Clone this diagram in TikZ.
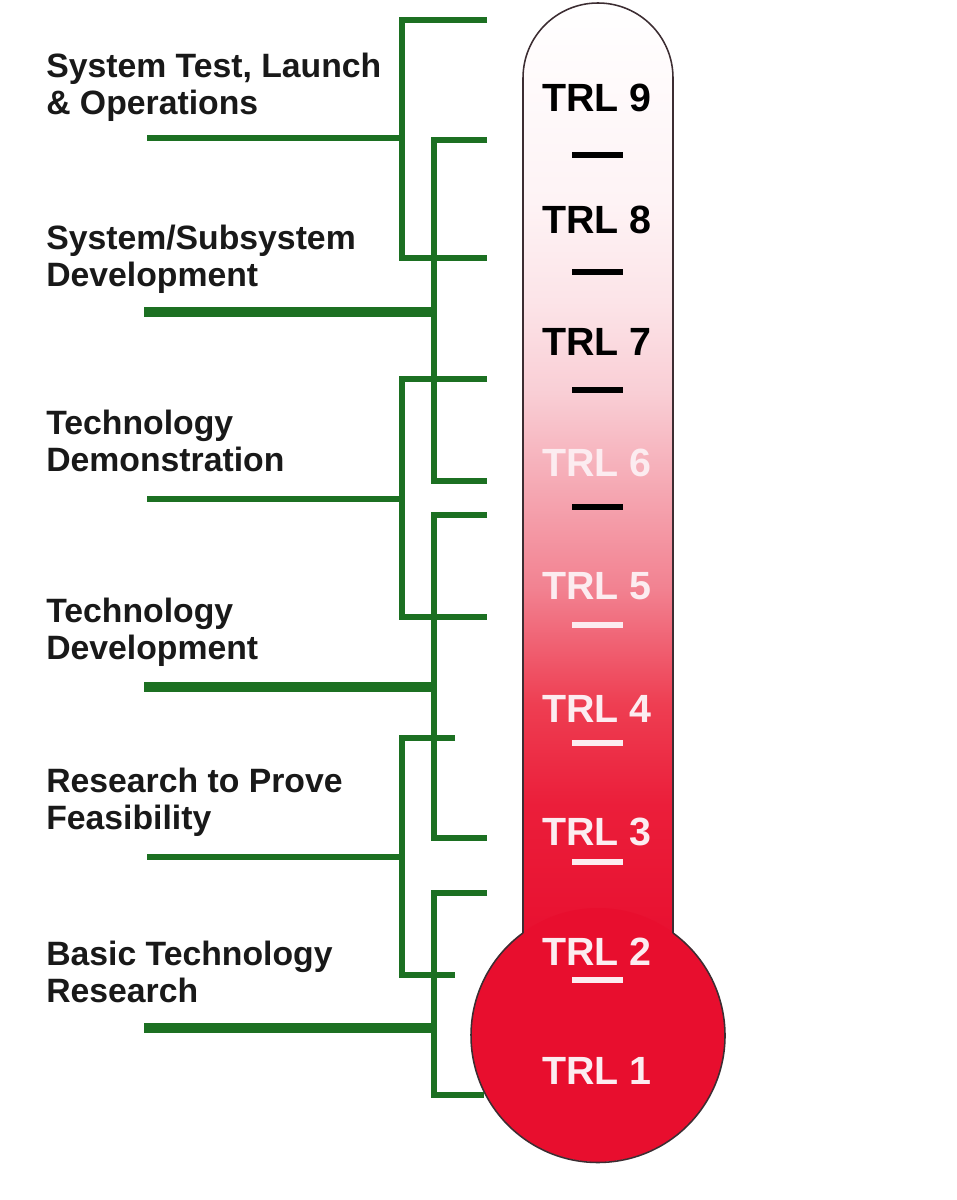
\documentclass[tikz,border=0pt]{standalone}
\usepackage{fontspec}
\setmainfont{Liberation Sans}
\definecolor{grn}{RGB}{28,112,34}
\definecolor{outl}{RGB}{60,45,50}
\definecolor{bulbred}{RGB}{232,14,46}
\definecolor{paletxt}{RGB}{252,236,240}
\definecolor{tc1}{RGB}{232,16,48}
\definecolor{tc2}{RGB}{235,30,58}
\definecolor{tc3}{RGB}{238,62,82}
\definecolor{tc4}{RGB}{242,130,145}
\definecolor{tc5}{RGB}{246,176,186}
\definecolor{tc6}{RGB}{249,206,213}
\definecolor{tc7}{RGB}{252,228,232}
\definecolor{tc8}{RGB}{254,243,245}
\definecolor{tc9}{RGB}{255,255,255}
\pgfdeclareverticalshading{thermo}{100bp}{color(0bp)=(tc1); color(25bp)=(tc1); color(32.2bp)=(tc2); color(37.6bp)=(tc3); color(43.8bp)=(tc4); color(50.2bp)=(tc5); color(54.2bp)=(tc6); color(59.1bp)=(tc7); color(64.4bp)=(tc8); color(75bp)=(tc9); color(100bp)=(tc9)}
\tikzset{
  gline/.style={draw=grn, line width=0.14cm, line cap=butt, line join=miter},
  gthick/.style={draw=grn, line width=0.23cm, line cap=butt},
  lbl/.style={anchor=north west, inner sep=0pt, align=left, font=\fontsize{24}{26.3}\selectfont\bfseries, text=black!90},
  trl/.style={anchor=center, inner sep=0pt, font=\fontsize{28}{30}\selectfont\bfseries},
  tick/.style={line width=0.13cm},
}
\begin{document}
\begin{tikzpicture}[x=0.025cm,y=-0.025cm]
\path[use as bounding box, fill=white] (0,0) rectangle (957,1200);

% thermometer tube
\path[shading=thermo] (523,940) -- (523,78) arc[start angle=180, end angle=360, radius=75] -- (673,940) -- cycle;
% bulb
\fill[bulbred] (598,1035) circle[radius=127];
\draw[outl, line width=1.1pt] (523,933) -- (523,78) arc[start angle=180, end angle=360, radius=75] -- (673,933);
\draw[outl, line width=1.1pt] (673,933) arc[start angle=-53.8, end angle=233.8, radius=127];

% level labels
\node[trl, text=black] (t9) at (597,98) {TRL 9};
\node[trl, text=black] (t8) at (597,220) {TRL 8};
\node[trl, text=black] (t7) at (597,342) {TRL 7};
\node[trl, text=paletxt] (t6) at (597,463) {TRL 6};
\node[trl, text=paletxt] (t5) at (597,586) {TRL 5};
\node[trl, text=paletxt] (t4) at (597,709) {TRL 4};
\node[trl, text=paletxt] (t3) at (597,832) {TRL 3};
\node[trl, text=paletxt] (t2) at (597,952) {TRL 2};
\node[trl, text=paletxt] (t1) at (597,1071) {TRL 1};

% ticks
\foreach \y in {155,272,390,507} \draw[tick, black] (572,\y) -- (623,\y);
\foreach \y in {625,743,862,980} \draw[tick, paletxt] (572,\y) -- (623,\y);

% phase labels
\node[lbl] (p1) at (46,53) {System Test, Launch\\\& Operations};
\node[lbl] (p2) at (46,225) {System/Subsystem\\Development};
\node[lbl] (p3) at (46,410) {Technology\\Demonstration};
\node[lbl] (p4) at (46,598) {Technology\\Development};
\node[lbl] (p5) at (46,768) {Research to Prove\\Feasibility};
\node[lbl] (p6) at (46,941) {Basic Technology\\Research};

% bracket coordinates
\coordinate (a1) at (487,20);  \coordinate (a2) at (487,258); \coordinate (as) at (147,138);
\coordinate (b1) at (487,140); \coordinate (b2) at (487,481); \coordinate (bs) at (144,312);
\coordinate (c1) at (487,379); \coordinate (c2) at (487,617); \coordinate (cs) at (147,499);
\coordinate (d1) at (487,515); \coordinate (d2) at (487,838); \coordinate (ds) at (144,687);
\coordinate (e1) at (455,738); \coordinate (e2) at (455,975); \coordinate (es) at (147,857);
\coordinate (f1) at (487,893); \coordinate (f2) at (484,1095); \coordinate (fs) at (144,1028);

% brackets
\draw[gline] (a1) -- (402,20) -- (402,258) -- (a2);
\draw[gline] (as) -- (402,138);
\draw[gline] (b1) -- (434,140) -- (434,481) -- (b2);
\draw[gthick] (bs) -- (434,312);
\draw[gline] (c1) -- (402,379) -- (402,617) -- (c2);
\draw[gline] (cs) -- (402,499);
\draw[gline] (d1) -- (434,515) -- (434,838) -- (d2);
\draw[gthick] (ds) -- (434,687);
\draw[gline] (e1) -- (402,738) -- (402,975) -- (e2);
\draw[gline] (es) -- (402,857);
\draw[gline] (f1) -- (434,893) -- (434,1095) -- (f2);
\draw[gthick] (fs) -- (434,1028);
\end{tikzpicture}
\end{document}
